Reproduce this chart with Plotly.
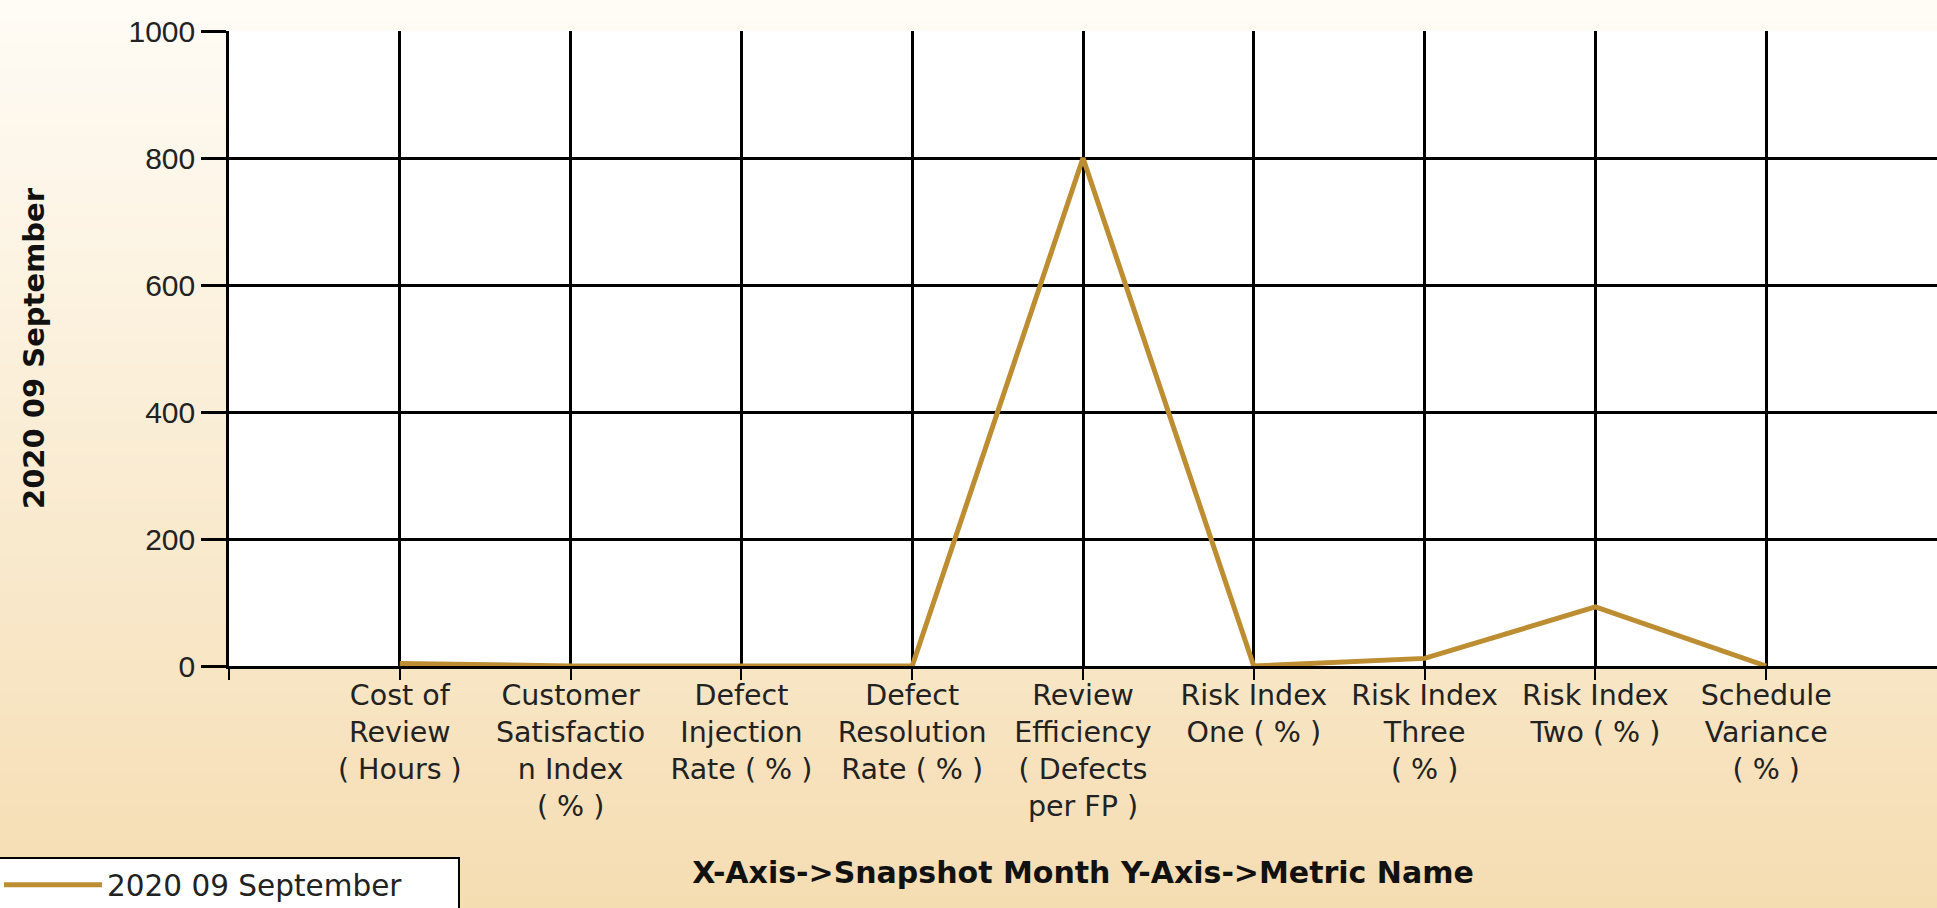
import plotly.graph_objects as go

# ---- data ----
metrics = [
    "Cost of Review ( Hours )",
    "Customer Satisfaction Index ( % )",
    "Defect Injection Rate ( % )",
    "Defect Resolution Rate ( % )",
    "Review Efficiency ( Defects per FP )",
    "Risk Index One ( % )",
    "Risk Index Three ( % )",
    "Risk Index Two ( % )",
    "Schedule Variance ( % )",
]
tick_labels = [
    "Cost of<br>Review<br>( Hours )",
    "Customer<br>Satisfactio<br>n Index<br>( % )",
    "Defect<br>Injection<br>Rate ( % )",
    "Defect<br>Resolution<br>Rate ( % )",
    "Review<br>Efficiency<br>( Defects<br>per FP )",
    "Risk Index<br>One ( % )",
    "Risk Index<br>Three<br>( % )",
    "Risk Index<br>Two ( % )",
    "Schedule<br>Variance<br>( % )",
]
series_name = "2020 09 September"
values_sep_2020 = [4, 0, 0, 0, 800, 0, 12, 93, 0]
y_ticks = [0, 200, 400, 600, 800, 1000]

# ---- layout constants ----
W, H = 1937, 908
ML, MR, MT, MB = 229, 0, 31, 242
PW, PH = W - ML - MR, H - MT - MB

x_pos = list(range(1, len(metrics) + 1))

fig = go.Figure()
fig.add_trace(go.Scatter(
    x=x_pos, y=values_sep_2020, mode="lines", name=series_name,
    line=dict(color="#BC8D31", width=5),
    customdata=metrics, hovertemplate="%{customdata}: %{y}<extra></extra>",
))

# background gradient (figure) drawn as thin bands, then the white plot area
top_rgb = (255, 252, 246)
bot_rgb = (245, 221, 178)
N = 80
shapes = []
for i in range(N):
    tm = (i + 0.5) / N
    c = tuple(round(top_rgb[k] + (bot_rgb[k] - top_rgb[k]) * tm) for k in range(3))
    py0 = i / N * H
    py1 = (i + 1) / N * H + 1
    shapes.append(dict(
        type="rect", xref="paper", yref="paper", layer="below",
        x0=-ML / PW - 0.01, x1=1.01,
        y0=(MT + PH - py1) / PH, y1=(MT + PH - py0) / PH,
        fillcolor="rgb(%d,%d,%d)" % c, line=dict(width=0),
    ))
shapes.append(dict(type="rect", xref="paper", yref="paper", layer="below",
                   x0=0, x1=1, y0=0, y1=1, fillcolor="white", line=dict(width=0)))

fig.update_layout(
    width=W, height=H,
    margin=dict(l=ML, r=MR, t=MT, b=MB, autoexpand=False),
    paper_bgcolor="rgb(250,236,212)",
    plot_bgcolor="rgba(0,0,0,0)",
    shapes=shapes,
    showlegend=True,
    legend=dict(
        orientation="h",
        xref="paper", yref="paper", x=(-ML - 3) / PW, y=(MT + PH - 857) / PH,
        xanchor="left", yanchor="top",
        bgcolor="white", bordercolor="black", borderwidth=2,
        font=dict(family="DejaVu Sans", size=29.5, color="#222"),
        itemwidth=98,
        entrywidth=346, entrywidthmode="pixels",
    ),
    xaxis=dict(
        range=[0, 10],
        tickmode="array",
        tickvals=[0] + x_pos,
        ticktext=[""] + tick_labels,
        tickangle=0,
        ticks="outside", ticklen=11, tickwidth=2, tickcolor="black",
        ticklabelstandoff=-9,
        showgrid=True, gridcolor="black", gridwidth=2.5,
        showline=True, linecolor="black", linewidth=3,
        zeroline=False,
        tickfont=dict(family="DejaVu Sans", size=28.5, color="#222"),
        title=dict(text="<b>X-Axis->Snapshot Month Y-Axis->Metric Name</b>",
                   font=dict(family="DejaVu Sans", size=30, color="#111"),
                   standoff=40),
        fixedrange=True,
    ),
    yaxis=dict(
        range=[0, 1000],
        tickmode="array", tickvals=y_ticks,
        ticks="outside", ticklen=25, tickwidth=2.5, tickcolor="black",
        showgrid=True, gridcolor="black", gridwidth=2.5,
        showline=True, linecolor="black", linewidth=2.5,
        zeroline=False,
        tickfont=dict(family="Liberation Sans", size=30, color="#222"),
        title=dict(text="<b>2020 09 September</b>",
                   font=dict(family="DejaVu Sans", size=29, color="#111"),
                   standoff=76),
        fixedrange=True,
    ),
)

fig.write_html("out.html", config={"displayModeBar": False},
               post_script="document.body.style.margin='0px';")
